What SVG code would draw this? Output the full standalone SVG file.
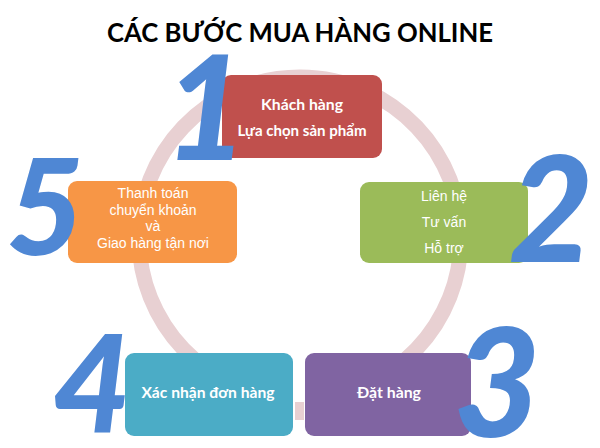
<svg xmlns="http://www.w3.org/2000/svg" width="600" height="448" viewBox="0 0 600 448">
<style>
.title{font-family:Lato,"Open Sans","Liberation Sans",sans-serif;font-weight:bold;font-size:26px;fill:#000;text-anchor:middle}
.box{stroke:none}
.cal{font-family:Lato,"Open Sans","Liberation Sans",sans-serif;font-weight:bold;font-size:15px;fill:#fff;text-anchor:middle}
.ari{font-family:"Liberation Sans",Arial,sans-serif;font-size:14px;fill:#fff;text-anchor:middle}
.num{font-family:Lato,"DejaVu Sans",sans-serif;font-weight:900;font-style:italic;fill:#4f87d4;text-anchor:middle}
.ring{fill:none;stroke:#e8d0d2;stroke-width:15}
</style>
<rect width="600" height="448" fill="#fff"/>
<text class="title" x="300" y="42" textLength="386" lengthAdjust="spacingAndGlyphs">CÁC BƯỚC MUA HÀNG ONLINE</text>
<g id="connectors">
<path class="ring" d="M195,360 A161,161 0 1 1 405,360"/>
<rect x="295" y="402" width="9" height="18" fill="#e8d0d2"/>
</g>
<g id="node1">
<rect class="box" x="222" y="75" width="160" height="83" rx="9" fill="#c0504d"/>
<text class="cal" x="302" y="110" textLength="82" lengthAdjust="spacingAndGlyphs">Khách hàng</text>
<text class="cal" x="302" y="136" textLength="129" lengthAdjust="spacingAndGlyphs">Lựa chọn sản phẩm</text>
<text class="num" x="206" y="160" font-size="144">1</text>
</g>
<g id="node2">
<rect class="box" x="360" y="182" width="168" height="81" rx="9" fill="#9bbb59"/>
<text class="ari" x="444" y="201">Liên hệ</text>
<text class="ari" x="444" y="227">Tư vấn</text>
<text class="ari" x="444" y="253">Hỗ trợ</text>
<text class="num" x="551" y="262" font-size="146">2</text>
</g>
<g id="node3">
<rect class="box" x="305" y="353" width="166" height="83" rx="9" fill="#8064a2"/>
<text class="cal" x="389" y="398" textLength="64" lengthAdjust="spacingAndGlyphs">Đặt hàng</text>
<text class="num" x="497" y="437" font-size="150">3</text>
</g>
<g id="node4">
<rect class="box" x="125" y="353" width="168" height="83" rx="9" fill="#4bacc6"/>
<text class="cal" x="208" y="398" textLength="133" lengthAdjust="spacingAndGlyphs">Xác nhận đơn hàng</text>
<text class="num" x="92" y="433" font-size="136">4</text>
</g>
<g id="node5">
<rect class="box" x="68" y="181" width="169" height="82" rx="9" fill="#f79646"/>
<text class="ari" x="153" y="198">Thanh toán</text>
<text class="ari" x="153" y="215">chuyển khoản</text>
<text class="ari" x="153" y="231">và</text>
<text class="ari" x="153" y="248">Giao hàng tận nơi</text>
<text class="num" x="45" y="255" font-size="134">5</text>
</g>
</svg>
